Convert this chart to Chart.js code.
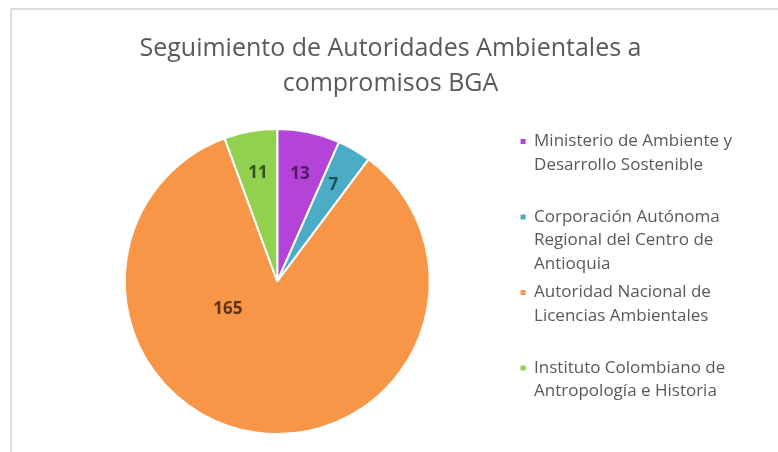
<!DOCTYPE html>
<html>
<head>
<meta charset="utf-8">
<script src="https://cdn.jsdelivr.net/npm/chart.js@4.4.1/dist/chart.umd.min.js"></script>
<style>
  html, body { margin: 0; padding: 0; background: #fff; }
  #wrap { position: relative; width: 778px; height: 452px; overflow: hidden; }
  #frame { position: absolute; left: 10px; top: 8px; right: -4px; bottom: -4px;
           border-left: 2px solid #dcdcdc; border-top: 2px solid #dcdcdc; }
  canvas { position: absolute; left: 0; top: 0; }
</style>
</head>
<body>
<div id="wrap">
  <div id="frame"></div>
  <canvas id="myChart" width="778" height="452"></canvas>
</div>
<script>
// data
var titleLines = ["Seguimiento de Autoridades Ambientales a", "compromisos BGA"];
var categories = [
  ["Ministerio de Ambiente y", "Desarrollo Sostenible"],
  ["Corporación Autónoma", "Regional del Centro de", "Antioquia"],
  ["Autoridad Nacional de", "Licencias Ambientales"],
  ["Instituto Colombiano de", "Antropología e Historia"]
];
var counts = [13, 7, 165, 11];

var sliceColors = ["#b443d8", "#4bacc6", "#f79646", "#92d050"];
var labelColors = ["#4f1a63", "#1f4f5e", "#5c3412", "#34521b"];
// where each value label sits: fraction of radius, optional angle (deg clockwise from top)
var labelPlace = [{r: 0.72}, {r: 0.73}, {r: 0.37, angle: 241}, {r: 0.72}];

var FONT = "'Open Sans', 'Noto Sans', sans-serif";

var valueLabels = {
  id: "valueLabels",
  afterDatasetsDraw: function (chart) {
    var ctx = chart.ctx;
    var meta = chart.getDatasetMeta(0);
    ctx.save();
    ctx.font = "bold 17px " + FONT;
    ctx.textAlign = "center";
    ctx.textBaseline = "middle";
    meta.data.forEach(function (arc, i) {
      var p = arc.getProps(["x", "y", "startAngle", "endAngle", "outerRadius"], true);
      var ang = (p.startAngle + p.endAngle) / 2;
      if (labelPlace[i].angle !== undefined) {
        ang = (labelPlace[i].angle - 90) * Math.PI / 180;
      }
      var r = p.outerRadius * labelPlace[i].r;
      ctx.fillStyle = labelColors[i];
      ctx.fillText(String(counts[i]), p.x + Math.cos(ang) * r, p.y + Math.sin(ang) * r);
    });
    ctx.restore();
  }
};

new Chart("myChart", {
  type: "pie",
  data: {
    labels: categories.map(function (c) { return c.join(" "); }),
    datasets: [{
      data: counts,
      backgroundColor: sliceColors,
      borderColor: "#ffffff",
      borderWidth: 2
    }]
  },
  plugins: [valueLabels],
  options: {
    responsive: false,
    devicePixelRatio: 1,
    animation: false,
    layout: { padding: { left: 39, right: 36, top: 0, bottom: 17 } },
    plugins: {
      tooltip: { enabled: false },
      title: {
        display: true,
        text: titleLines,
        color: "#595959",
        font: { family: FONT, size: 25, weight: "normal", lineHeight: 1.4 },
        padding: { top: 31, bottom: 27 }
      },
      legend: {
        position: "right",
        align: "start",
        fullSize: false,
        labels: {
          color: "#595959",
          font: { family: FONT, size: 17, lineHeight: 1.382 },
          boxWidth: 5,
          boxHeight: 5,
          padding: 5,
          generateLabels: function (chart) {
            return categories.map(function (lines, i) {
              var text = lines.slice();
              while (text.length < 3) text.push("");
              return {
                text: text,
                fillStyle: sliceColors[i],
                strokeStyle: sliceColors[i],
                fontColor: "#595959",
                lineWidth: 0,
                hidden: false,
                index: i
              };
            });
          }
        }
      }
    }
  }
});
</script>
</body>
</html>
